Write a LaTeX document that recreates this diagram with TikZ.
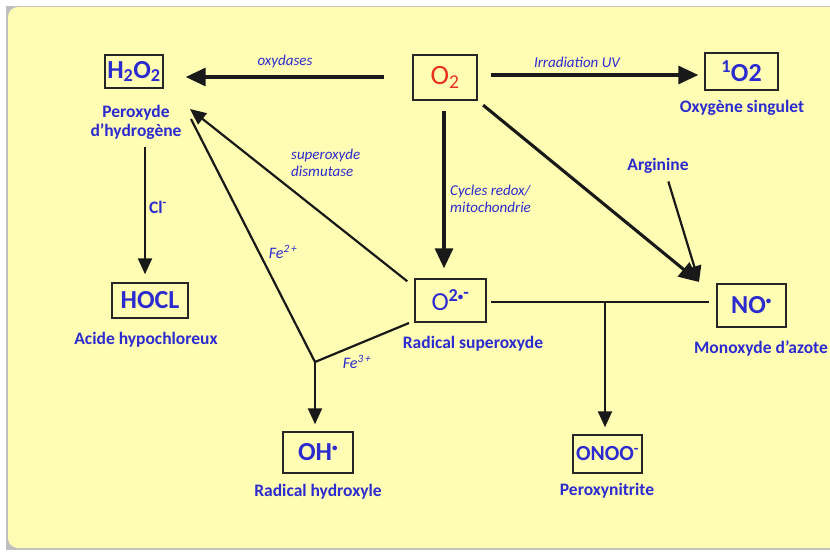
\documentclass[tikz,border=0pt]{standalone}
\usepackage{fontspec}
\setmainfont{Carlito}
\usetikzlibrary{arrows.meta}
\definecolor{bg}{HTML}{FFFDB3}
\definecolor{lblue}{HTML}{2B2BCF}
\definecolor{ored}{HTML}{E8321E}
\newcommand{\raddot}{\raisebox{0.1ex}{\scalebox{0.6}{\textbullet}}}
\begin{document}
\begin{tikzpicture}[x=1pt,y=-1pt,
  chem/.style={draw=black!85, line width=1.4pt, font=\fontsize{26}{28}\selectfont\bfseries, text=lblue, inner sep=0pt},
  captxt/.style={font=\fontsize{17.5}{19}\selectfont\bfseries, text=lblue, inner sep=0pt, align=center},
  lab/.style={font=\fontsize{15}{17}\selectfont\itshape, text=lblue, inner sep=0pt},
  bigarr/.style={line width=3.1pt, black!90, -{Triangle[length=20pt,width=18pt]}},
  arr/.style={line width=2.2pt, black!90, -{Triangle[length=16pt,width=14pt]}},
  ln/.style={line width=2.2pt, black!90}]
\useasboundingbox (0,0) rectangle (830,553);
\fill[white] (0,0) rectangle (830,553);
\fill[black!25] (6,6) rectangle (835,550);
\fill[bg, rounded corners=10pt] (8,7) rectangle (840,548);
% boxes
\node[chem, minimum width=58pt, minimum height=33pt] (h2o2) at (134,71.5) {H\textsubscript{2}O\textsubscript{2}};
\node[chem, minimum width=64pt, minimum height=45pt, text=ored, font=\fontsize{28}{30}\selectfont] (o2) at (445,77.5) {O\textsubscript{2}};
\node[chem, minimum width=73pt, minimum height=37pt] (so2) at (741.5,71.5) {\textsuperscript{1}O2};
\node[chem, minimum width=71pt, minimum height=43pt, font=\fontsize{26}{28}\selectfont] (sup) at (450.5,300.5) {O\textsuperscript{\bfseries 2\raddot\raisebox{0.4ex}{-}}};
\node[chem, minimum width=69pt, minimum height=43pt] (no) at (751.5,305.5) {NO\textsuperscript{\raddot}};
\node[chem, minimum width=76pt, minimum height=35pt] (hocl) at (150,300.5) {HOCL};
\node[chem, minimum width=70pt, minimum height=41pt] (oh) at (318,452.5) {OH\textsuperscript{\raddot}};
\node[chem, minimum width=69pt, minimum height=38pt, font=\fontsize{21.5}{23}\selectfont\bfseries] (onoo) at (607.5,454) {ONOO\textsuperscript{-}};
% captions
\node[captxt] (ch2o2) at (136,122) {Peroxyde\\d’hydrogène};
\node[captxt] (cso2) at (742,108) {Oxygène singulet};
\node[captxt] (chocl) at (146,340) {Acide hypochloreux};
\node[captxt] (csup) at (473,344) {Radical superoxyde};
\node[captxt] (cno) at (761,349) {Monoxyde d’azote};
\node[captxt] (coh) at (318,492) {Radical hydroxyle};
\node[captxt] (conoo) at (607,491) {Peroxynitrite};
\node[captxt] (arg) at (658,166) {Arginine};
\node[captxt] (cl) at (158,207) {Cl\textsuperscript{-}};
% italic labels
\node[lab] (oxy) at (285,62) {oxydases};
\node[lab] (uv) at (577,62) {Irradiation UV};
\node[lab, align=left, anchor=west] (sod) at (291,163) {superoxyde\\dismutase};
\node[lab, align=left, anchor=west] (cyc) at (450,199) {Cycles redox/\\mitochondrie};
\node[lab, font=\fontsize{16}{18}\selectfont\itshape] (fe2) at (283,252) {Fe\textsuperscript{2\,+}};
\node[lab, font=\fontsize{16}{18}\selectfont\itshape] (fe3) at (357,362) {Fe\textsuperscript{3\,+}};
% coordinates
\coordinate (noin) at (699,282);
\coordinate (fe) at (315,362);
\coordinate (tj) at (605,302);
% arrows
\draw[bigarr, shorten <=28pt, shorten >=22pt] (o2.west |- 0,77) -- (h2o2.east |- 0,77);
\draw[bigarr, shorten <=13pt, shorten >=6pt] (o2.east |- 0,75) -- (so2.west |- 0,75);
\draw[bigarr, shorten <=10pt, shorten >=10pt] (o2.south -| 444,0) -- (sup.north -| 444,0);
\draw[bigarr, shorten <=7pt] (o2.south east) -- (noin);
\draw[arr, shorten <=8pt] (arg.south) ++(8,0) -- (noin);
\draw[arr] (sup.north west) ++(-7,3) -- (190,109);
\draw[arr, shorten <=8pt, shorten >=8pt] (ch2o2.south -| 145,0) -- (hocl.north -| 145,0);
\draw[ln] (191,119) -- (fe) -- (409,323);
\draw[arr, shorten >=7pt] (fe) -- (fe |- oh.north);
\draw[ln, shorten <=4pt, shorten >=7pt] (sup.east |- tj) -- (no.west |- tj);
\draw[arr, shorten >=7pt] (tj) -- (tj |- onoo.north);
\end{tikzpicture}
\end{document}
